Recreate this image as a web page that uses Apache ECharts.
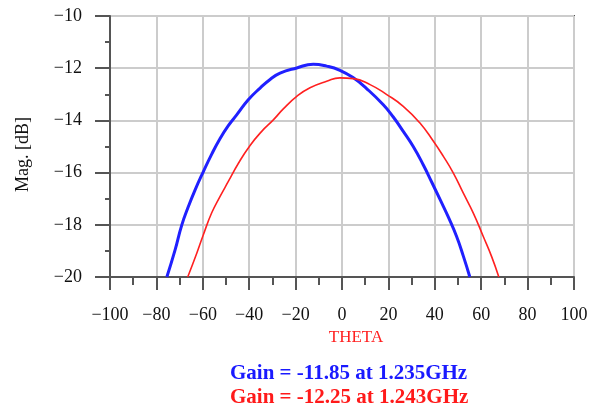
<!DOCTYPE html>
<html>
<head>
<meta charset="utf-8">
<script src="https://cdn.jsdelivr.net/npm/echarts@6/dist/echarts.min.js"></script>
<style>html,body{margin:0;padding:0;background:#fff;}#c{width:597px;height:411px;}</style>
</head>
<body>
<div id="c"></div>
<script>
var blueTheta = [-75.5,-72.0,-69.1,-66.3,-63.4,-59.8,-56.2,-52.6,-49.0,-45.4,-40.4,-35.3,-31.0,-26.7,-19.5,-12.4,-6.6,-0.9,4.9,10.6,17.8,22.1,26.4,30.7,35.0,38.7,42.2,45.8,49.4,52.3,55.1];
var blueMag   = [-20,-18.98,-18.02,-17.32,-16.68,-15.97,-15.30,-14.70,-14.20,-13.79,-13.21,-12.76,-12.43,-12.19,-11.99,-11.85,-11.92,-12.08,-12.37,-12.78,-13.40,-13.87,-14.42,-15.00,-15.70,-16.37,-17.02,-17.70,-18.45,-19.20,-20];
var redTheta  = [-66.5,-62.6,-59.8,-56.2,-52.6,-49.0,-44.7,-39.7,-34.6,-29.6,-25.3,-19.5,-13.8,-6.6,-0.9,4.9,12.1,19.3,26.4,33.6,39.4,43.7,48.0,52.3,56.6,60.9,64.5,67.6];
var redMag    = [-20,-19.09,-18.39,-17.55,-16.92,-16.34,-15.65,-14.97,-14.42,-13.98,-13.56,-13.08,-12.75,-12.50,-12.37,-12.40,-12.63,-13.01,-13.46,-14.10,-14.80,-15.38,-16.02,-16.79,-17.55,-18.45,-19.22,-20];
var blueName = 'Gain = -11.85 at 1.235GHz';
var redName  = 'Gain = -12.25 at 1.243GHz';
var xTitle = 'THETA';
var yTitle = 'Mag. [dB]';

function pairs(a, b) { return a.map(function (v, i) { return [v, b[i]]; }); }
function minus(v) { return String(v).replace('-', '\u2212'); }

var font = '"Liberation Serif", "Times New Roman", serif';
var chart = echarts.init(document.getElementById('c'));
chart.setOption({
  animation: false,
  grid: { left: 110, top: 16, width: 464, height: 261, show: true, borderColor: '#555', borderWidth: 2 },
  xAxis: {
    type: 'value', min: -100, max: 100, interval: 20,
    name: xTitle, nameLocation: 'middle', nameGap: 51,
    nameTextStyle: { color: '#ff2020', fontSize: 17, fontFamily: font, padding: [0, 0, 0, 28] },
    axisLine: { show: true, onZero: false, lineStyle: { color: '#555', width: 2 } },
    axisTick: { show: true, length: 13, lineStyle: { color: '#555', width: 2 } },
    minorTick: { show: true, splitNumber: 2, length: 8, lineStyle: { color: '#555', width: 2 } },
    splitLine: { show: true, lineStyle: { color: '#cccccc', width: 2 } },
    axisLabel: { color: '#111', fontSize: 18, fontFamily: font, margin: 29, formatter: minus }
  },
  yAxis: {
    type: 'value', min: -20, max: -10, interval: 2,
    name: yTitle, nameLocation: 'middle', nameGap: 78,
    nameTextStyle: { color: '#111', fontSize: 18, fontFamily: font, padding: [0, 16, 0, 0] },
    axisLine: { show: true, onZero: false, lineStyle: { color: '#555', width: 2 } },
    axisTick: { show: true, length: 15, lineStyle: { color: '#555', width: 2 } },
    minorTick: { show: true, splitNumber: 2, length: 5, lineStyle: { color: '#555', width: 2 } },
    splitLine: { show: true, lineStyle: { color: '#cccccc', width: 2 } },
    axisLabel: { color: '#111', fontSize: 18, fontFamily: font, margin: 28, formatter: minus }
  },
  graphic: [
    { type: 'text', left: 230, top: 363, style: { text: blueName, fill: '#1a1aff', font: 'bold 21px ' + font } },
    { type: 'text', left: 230, top: 387, style: { text: redName, fill: '#ff1a1a', font: 'bold 21px ' + font } }
  ],
  series: [
    { name: blueName, type: 'line', data: pairs(blueTheta, blueMag), showSymbol: false, smooth: 0.5,
      lineStyle: { color: '#2020ff', width: 3 }, itemStyle: { color: '#2020ff' } },
    { name: redName, type: 'line', data: pairs(redTheta, redMag), showSymbol: false, smooth: 0.5,
      lineStyle: { color: '#ff2020', width: 1.6 }, itemStyle: { color: '#ff2020' } }
  ]
});
</script>
</body>
</html>
